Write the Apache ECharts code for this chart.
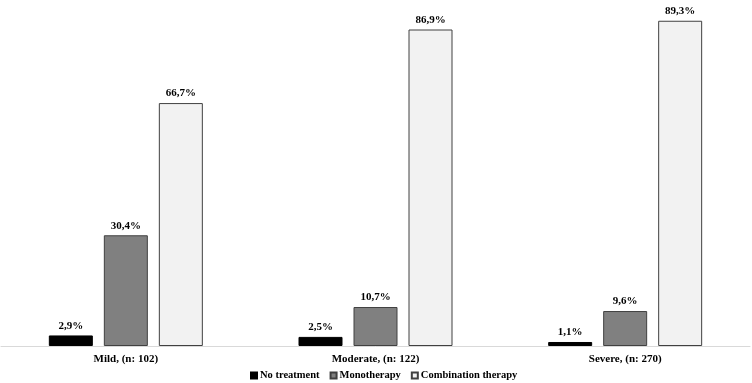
<!DOCTYPE html>
<html>
<head>
<meta charset="utf-8">
<script src="https://cdn.jsdelivr.net/npm/echarts@6/dist/echarts.min.js"></script>
<style>
  html, body { margin: 0; padding: 0; background: #fff; }
  #chart { width: 752px; height: 383px; }
</style>
</head>
<body>
<div id="chart"></div>
<script>
// categories and series values (percent)
const categories = ["Mild, (n: 102)", "Moderate, (n: 122)", "Severe, (n: 270)"]
const noTreatment = [2.9, 2.5, 1.1]
const monotherapy = [30.4, 10.7, 9.6]
const combination = [66.7, 86.9, 89.3]

const font = "'Liberation Serif', 'Times New Roman', serif"

const label = {
  show: true,
  position: "top",
  distance: 4,
  fontFamily: font,
  fontWeight: "bold",
  fontSize: 11,
  color: "#000",
  formatter: (p) => p.value.toFixed(1).replace(".", ",") + "%",
}

const chart = echarts.init(document.getElementById("chart"))
chart.setOption({
  animation: false,
  grid: { left: 1, right: 2, top: 0, bottom: 37 },
  legend: {
    bottom: -3,
    left: 245,
    itemWidth: 6,
    itemHeight: 6,
    itemGap: 10,
    icon: "rect",
    textStyle: { fontFamily: font, fontWeight: "bold", fontSize: 10.5, color: "#000", padding: [0, 0, 0, -2] },
    data: ["No treatment", "Monotherapy", "Combination therapy"],
  },
  xAxis: {
    type: "category",
    data: categories,
    axisLine: { lineStyle: { color: "#d9d9d9", width: 1 } },
    axisTick: { show: false },
    axisLabel: { fontFamily: font, fontWeight: "bold", fontSize: 11, color: "#000", margin: 8 },
  },
  yAxis: {
    type: "value",
    min: 0,
    max: 95,
    show: false,
    splitLine: { show: false },
  },
  series: [
    {
      name: "No treatment",
      type: "bar",
      data: noTreatment,
      barWidth: 44,
      barGap: "25%",
      itemStyle: { color: "#000", borderColor: "#000", borderWidth: 1 },
      label,
    },
    {
      name: "Monotherapy",
      type: "bar",
      data: monotherapy,
      barWidth: 44,
      barGap: "25%",
      itemStyle: { color: "#808080", borderColor: "#404040", borderWidth: 1 },
      label,
    },
    {
      name: "Combination therapy",
      type: "bar",
      data: combination,
      barWidth: 44,
      barGap: "25%",
      itemStyle: { color: "#f2f2f2", borderColor: "#404040", borderWidth: 1 },
      label,
    },
  ],
})
</script>
</body>
</html>
